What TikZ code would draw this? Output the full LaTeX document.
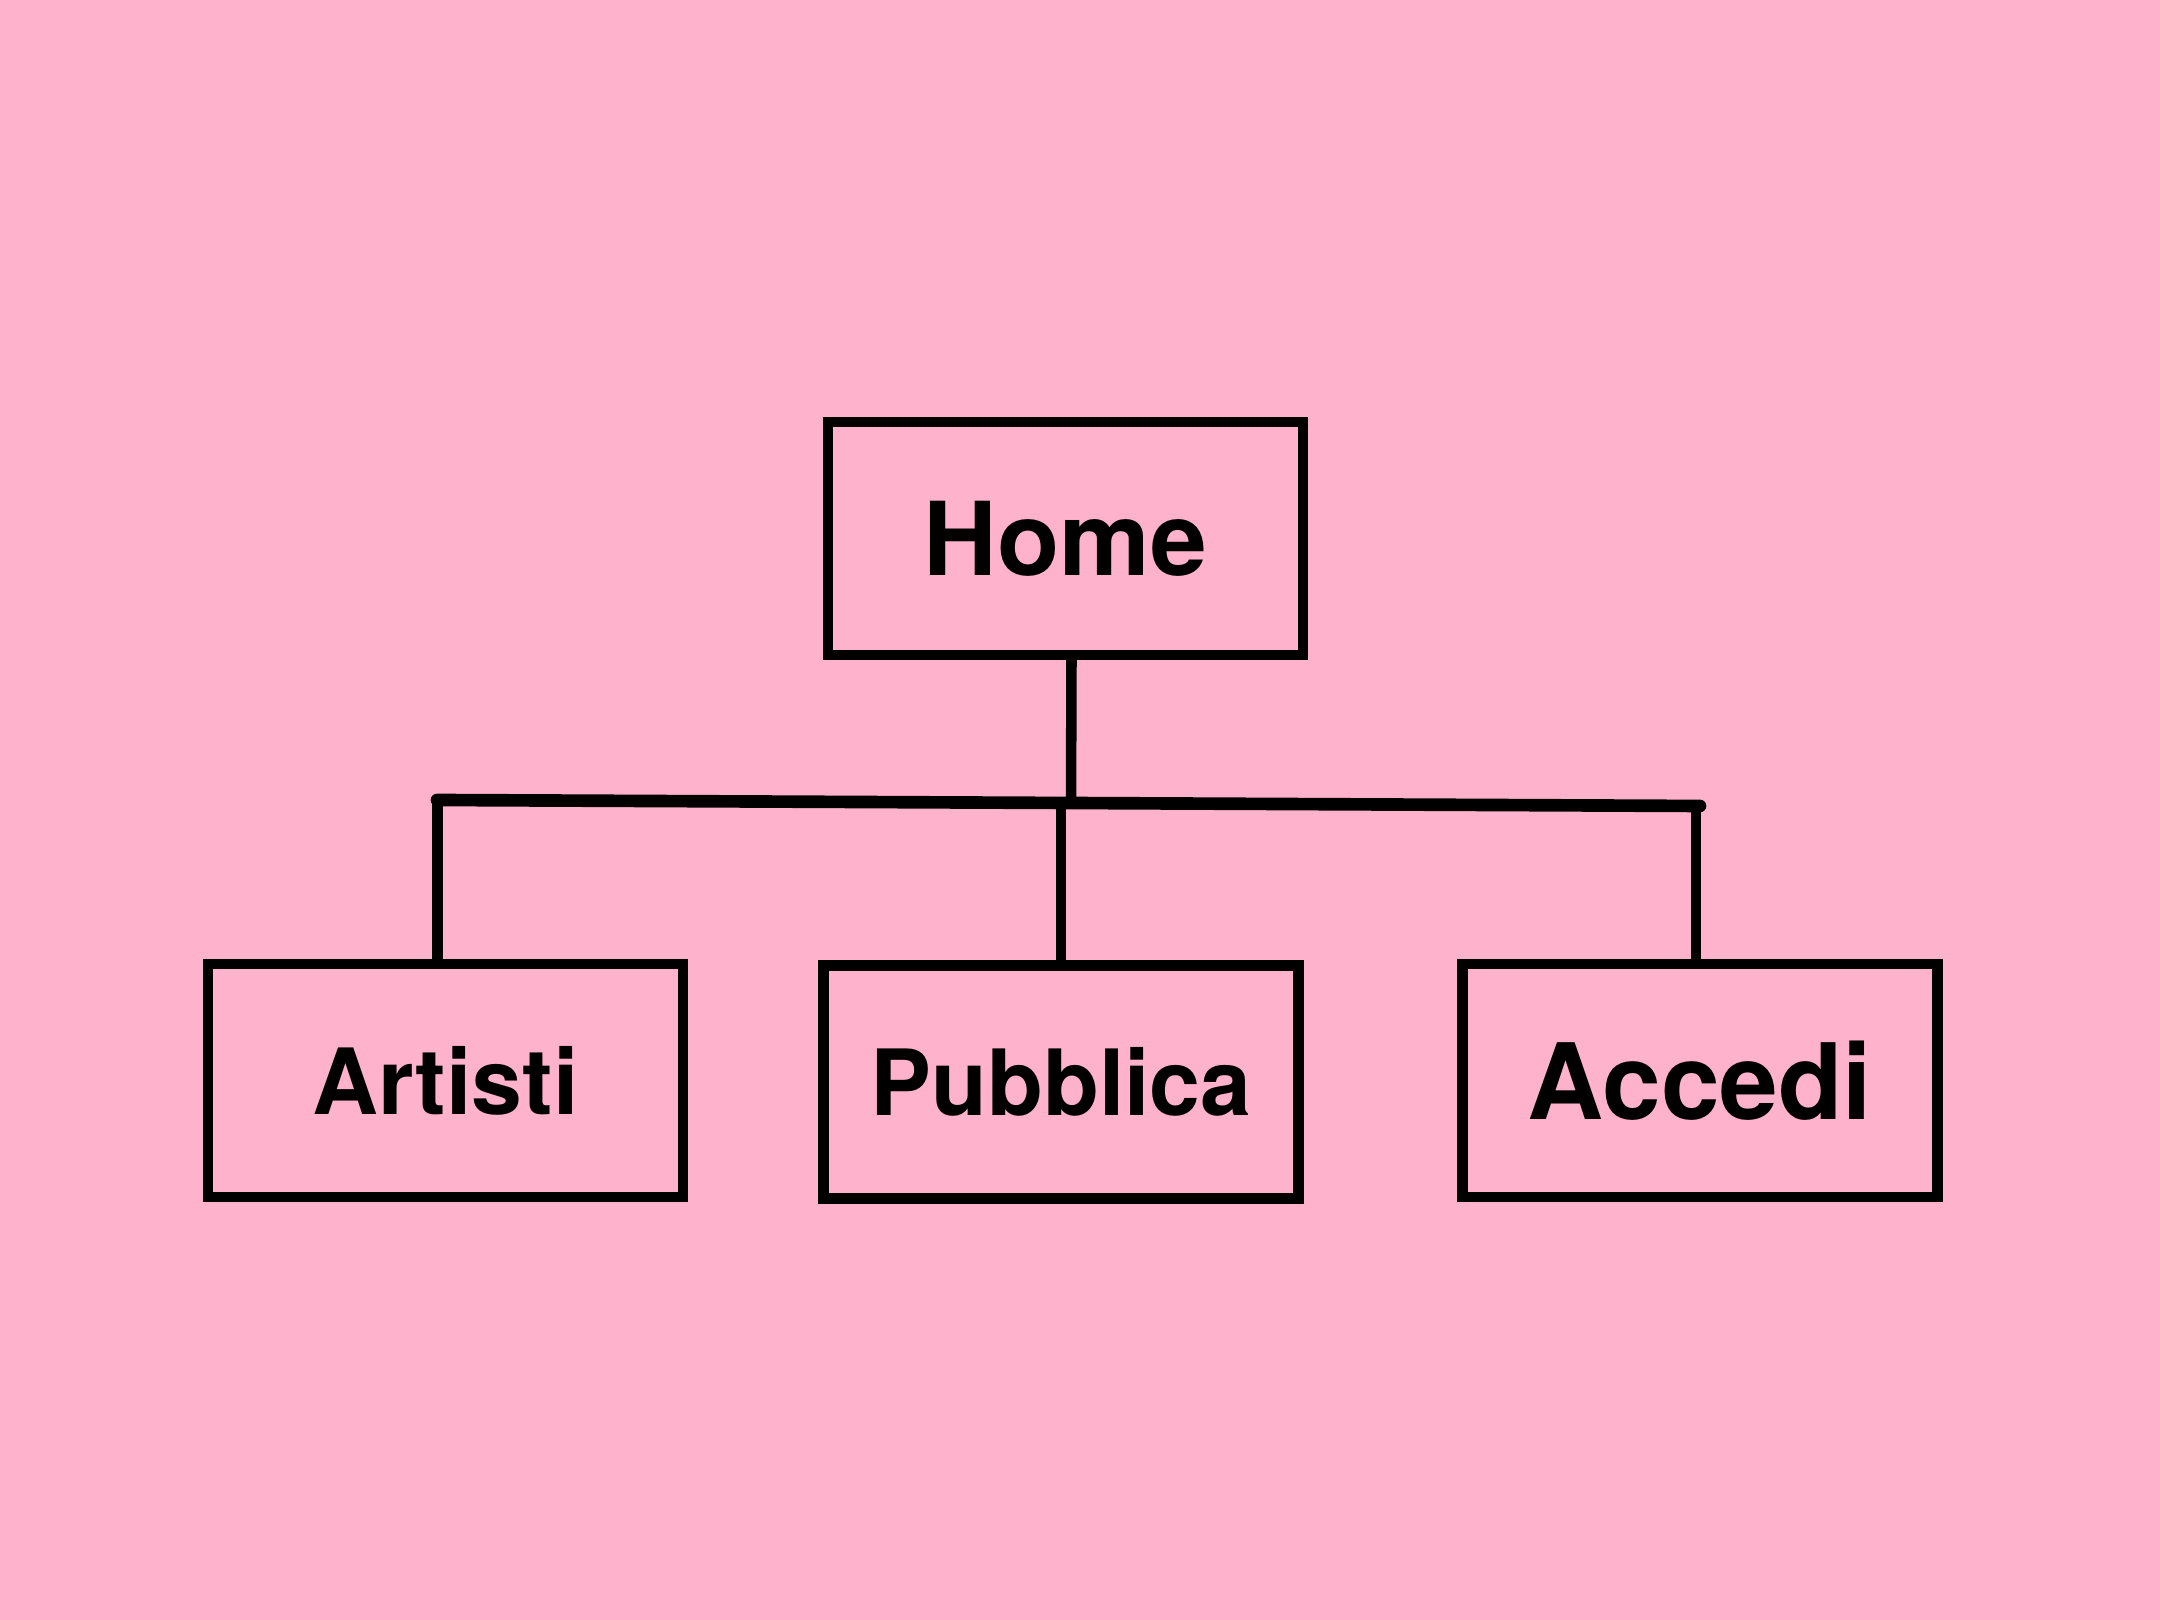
\documentclass[tikz,border=0pt]{standalone}
\usepackage{fontspec}
\setmainfont{TeX Gyre Heros}
\usepackage{tikz}
\usetikzlibrary{calc, positioning}
\definecolor{bgpink}{HTML}{FFB2CB}
\tikzstyle{page}  = [rectangle, draw=black, line width=3pt, minimum width=4.75cm, minimum height=2.33cm, inner sep=0pt, outer sep=0pt, text centered, font=\bfseries]
\tikzstyle{link}  = [line width=3pt]
\tikzstyle{bar}   = [line width=3.6pt, line cap=round]

\begin{document}
\begin{tikzpicture}
      \fill [bgpink] (0,0) rectangle (21.6,16.2);
      \useasboundingbox (0,0) rectangle (21.6,16.2);

      \node (home)     [page] at (10.655,10.815) {\fontsize{29}{34}\selectfont Home};

      \node (artisti)  [page] at (4.455,5.395)   {\fontsize{26}{31}\selectfont Artisti};
      \node (pubblica) [page] at (10.61,5.38)    {\fontsize{26}{31}\selectfont Pubblica};
      \node (accedi)   [page] at (17.00,5.395)   {\fontsize{30}{36}\selectfont Accedi};

      \coordinate (barL) at (4.37,8.20);
      \coordinate (barR) at (17.00,8.14);
      \coordinate (hub)  at (10.71,8.17);

      \draw [link] ([xshift=0.06cm]home.south) -- (hub);
      \draw [bar]  (barL) -- (barR);

      \draw [link] ([xshift=-0.08cm]artisti.north) -- ([xshift=-0.08cm]artisti.north |- barL);
      \draw [link] (pubblica.north)  -- (pubblica.north |- hub);
      \draw [link] ([xshift=-0.04cm]accedi.north) -- ([xshift=-0.04cm]accedi.north |- barR);

    \end{tikzpicture}
\end{document}
